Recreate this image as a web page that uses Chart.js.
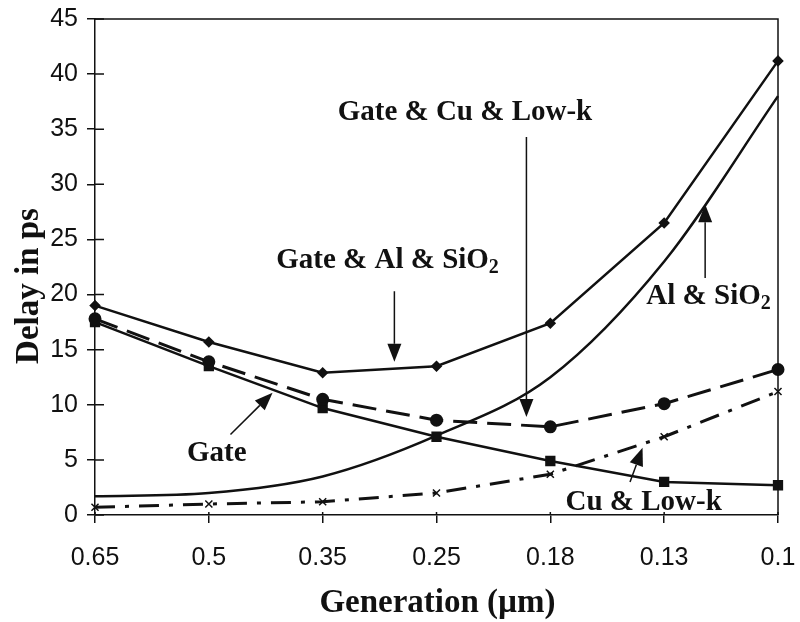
<!DOCTYPE html>
<html>
<head>
  <meta charset="UTF-8" />
  <title>Delay vs Generation</title>
  <style>
    html, body { margin: 0; padding: 0; background: #fff; }
    #wrap { width: 800px; height: 622px; }
  </style>
</head>
<body>
  <div id="wrap"><canvas id="delayChart"></canvas></div>
  <script src="https://cdn.jsdelivr.net/npm/chart.js"></script>
  <script>
    const generations = ['0.65', '0.5', '0.35', '0.25', '0.18', '0.13', '0.1'];
    const gateAlSiO2 = [19.0, 15.7, 12.9, 13.5, 17.4, 26.5, 41.2];
    const gateCuLowk = [17.8, 13.9, 10.5, 8.6, 8.0, 10.1, 13.2];
    const gate = [17.5, 13.5, 9.7, 7.1, 4.9, 3.0, 2.7];
    const alSiO2 = [1.7, 2.0, 3.5, 7.2, 12.5, 23.0, 38.0];
    const cuLowk = [0.7, 1.0, 1.2, 2.0, 3.7, 7.1, 11.2];

    // callouts: text position and arrow (tail -> tip) in category index / value units
    const callouts = [
      { text: 'Gate & Cu & Low-k', x: 3.25, y: 36.5, from: [3.79, 34.3], to: [3.79, 8.9] },
      { text: 'Gate & Al & SiO', sub: '2', x: 2.57, y: 23.1, from: [2.63, 20.3], to: [2.63, 13.9] },
      { text: 'Al & SiO', sub: '2', x: 5.39, y: 19.8, from: [5.36, 21.5], to: [5.36, 28.2] },
      { text: 'Gate', x: 1.07, y: 5.6, from: [1.19, 7.3], to: [1.56, 11.1] },
      { text: 'Cu & Low-k', x: 4.82, y: 1.1, from: [4.70, 3.0], to: [4.81, 6.1] }
    ];

    const xTitle = 'Generation (\u00b5m)';
    const yTitle = 'Delay in ps';

    const serif = '"Liberation Serif", "DejaVu Serif", serif';
    const sans = '"Liberation Sans", sans-serif';

    const framePlugin = {
      id: 'frame',
      afterDatasetsDraw(chart) {
        const ctx = chart.ctx;
        const a = chart.chartArea;
        const xs = chart.scales.x, ys = chart.scales.y;
        ctx.save();
        ctx.strokeStyle = '#111';
        ctx.lineWidth = 1.5;
        ctx.beginPath();
        ctx.moveTo(a.left, a.top);
        ctx.lineTo(a.right, a.top);
        ctx.lineTo(a.right, a.bottom);
        ctx.stroke();
        // inner parts of the tick marks
        ctx.beginPath();
        ys.ticks.forEach((t, i) => {
          const py = ys.getPixelForTick(i);
          ctx.moveTo(a.left, py);
          ctx.lineTo(a.left + 9, py);
        });
        xs.ticks.forEach((t, i) => {
          const px = xs.getPixelForTick(i);
          ctx.moveTo(px, a.bottom);
          ctx.lineTo(px, a.bottom - 3);
        });
        ctx.stroke();

        // axis titles
        ctx.fillStyle = '#111';
        ctx.font = 'bold 33px ' + serif;
        ctx.textAlign = 'center';
        ctx.textBaseline = 'alphabetic';
        ctx.fillText(xTitle, (a.left + a.right) / 2 + 1, 612);
        ctx.save();
        ctx.translate(38, 286);
        ctx.rotate(-Math.PI / 2);
        ctx.fillText(yTitle, 0, 0);
        ctx.restore();

        // callouts
        ctx.strokeStyle = '#111';
        ctx.lineWidth = 1.5;
        callouts.forEach(c => {
          const tx = xs.getPixelForValue(c.x), ty = ys.getPixelForValue(c.y);
          ctx.font = 'bold 29px ' + serif;
          ctx.textBaseline = 'middle';
          const mainW = ctx.measureText(c.text).width;
          let subW = 0;
          if (c.sub) {
            ctx.font = 'bold 20px ' + serif;
            subW = ctx.measureText(c.sub).width;
          }
          const startX = tx - (mainW + subW) / 2;
          ctx.font = 'bold 29px ' + serif;
          ctx.textAlign = 'left';
          ctx.fillText(c.text, startX, ty);
          if (c.sub) {
            ctx.font = 'bold 20px ' + serif;
            ctx.fillText(c.sub, startX + mainW, ty + 7);
          }
          const x1 = xs.getPixelForValue(c.from[0]), y1 = ys.getPixelForValue(c.from[1]);
          const x2 = xs.getPixelForValue(c.to[0]), y2 = ys.getPixelForValue(c.to[1]);
          const ang = Math.atan2(y2 - y1, x2 - x1);
          const headLen = 18, headW = 7;
          const bx = x2 - headLen * Math.cos(ang), by = y2 - headLen * Math.sin(ang);
          ctx.beginPath();
          ctx.moveTo(x1, y1);
          ctx.lineTo(bx, by);
          ctx.stroke();
          ctx.beginPath();
          ctx.moveTo(x2, y2);
          ctx.lineTo(bx + headW * Math.sin(ang), by - headW * Math.cos(ang));
          ctx.lineTo(bx - headW * Math.sin(ang), by + headW * Math.cos(ang));
          ctx.closePath();
          ctx.fill();
        });
        ctx.restore();
      }
    };

    const line = (label, values, opts) => Object.assign({
      label: label,
      data: values,
      borderColor: '#111',
      backgroundColor: '#111',
      borderWidth: 2.5,
      fill: false,
      tension: 0
    }, opts);

    new Chart(document.getElementById('delayChart'), {
      type: 'line',
      data: {
        labels: generations,
        datasets: [
          line('Gate & Al & SiO2', gateAlSiO2, { pointStyle: 'rectRot', pointRadius: 4 }),
          line('Gate & Cu & Low-k', gateCuLowk, { borderWidth: 3, borderDash: [24, 10], pointStyle: 'circle', pointRadius: 5 }),
          line('Gate', gate, { pointStyle: 'rect', pointRadius: 5.5 }),
          line('Al & SiO2', alSiO2, { pointRadius: 0, cubicInterpolationMode: 'monotone' }),
          line('Cu & Low-k', cuLowk, { borderWidth: 3, borderDash: [20, 10, 4, 10], pointStyle: 'crossRot', pointRadius: 5, pointBorderWidth: 1.5 })
        ]
      },
      options: {
        responsive: true,
        maintainAspectRatio: false,
        animation: false,
        layout: { padding: { left: 0, top: 19, right: 22, bottom: 0 } },
        plugins: { legend: { display: false }, tooltip: { enabled: false } },
        scales: {
          x: {
            offset: false,
            grid: { display: true, drawOnChartArea: false, drawTicks: true, tickLength: 8, color: '#111', lineWidth: 1.5 },
            border: { color: '#111', width: 1.5 },
            ticks: { color: '#111', font: { family: sans, size: 25 }, padding: 20, maxRotation: 0 },
            afterFit(scale) { scale.height = 107; scale.paddingLeft = 0; scale.paddingRight = 0; }
          },
          y: {
            min: 0,
            max: 45,
            grid: { display: true, drawOnChartArea: false, drawTicks: true, tickLength: 8, color: '#111', lineWidth: 1.5 },
            border: { color: '#111', width: 1.5 },
            ticks: { stepSize: 5, color: '#111', font: { family: sans, size: 25 }, padding: 9 },
            afterFit(scale) { scale.width = 95; scale.paddingTop = 0; scale.paddingBottom = 0; }
          }
        }
      },
      plugins: [framePlugin]
    });
  </script>
</body>
</html>
